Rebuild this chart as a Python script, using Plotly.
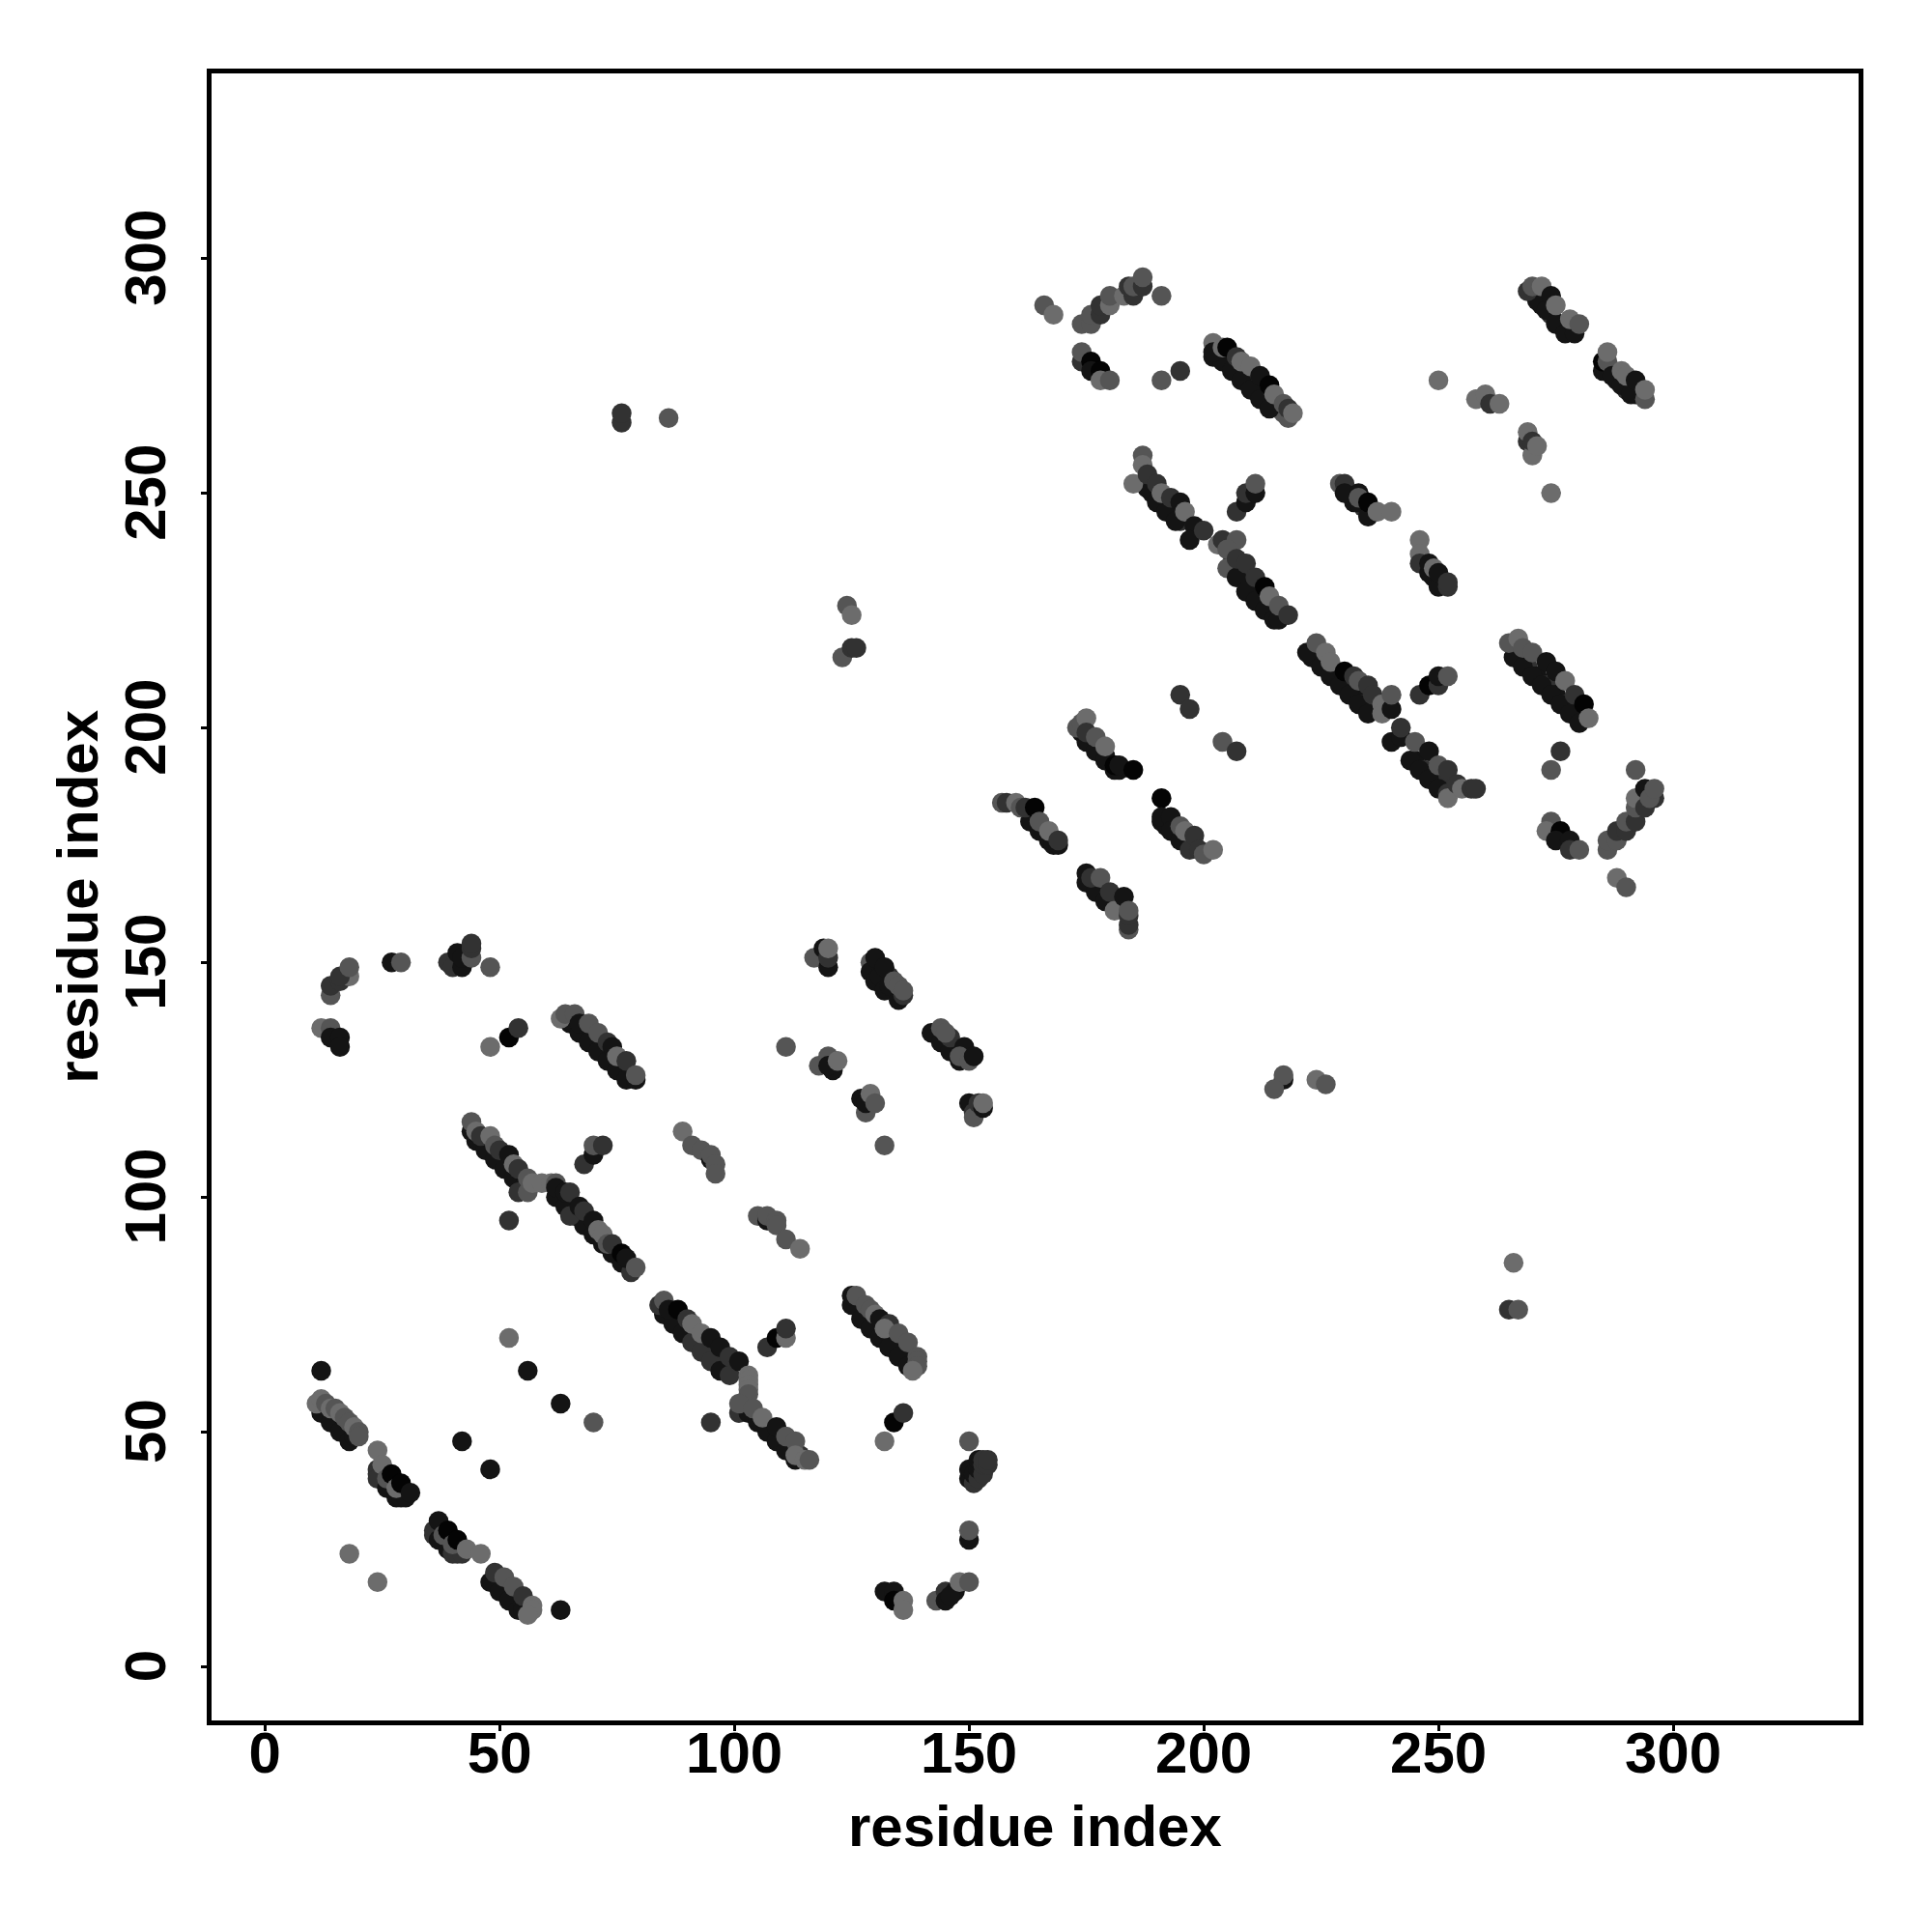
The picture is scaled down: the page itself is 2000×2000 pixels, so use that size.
import plotly.graph_objects as go

AXIS_LABEL = "residue index"
TICKS = [0, 50, 100, 150, 200, 250, 300]
D, K, M, L, B = 20, 50, 85, 108, 4

# each entry: (residue x, residue y, grey level), in paint order
under_a = [(13,54,D),(15,52,K),(17,50,D),(25,41,K),(27,39,D),(29,37,K),(37,29,K),(38,27,D),(40,25,K),(41,25,D),(49,18,D),(51,16,K),(53,14,D),(55,13,K)]
under_b = [(86,75,D),(88,73,K),(90,71,D),(92,69,K),(94,67,D),(96,65,K),(98,63,D),(104,54,D),(106,52,K),(108,50,D),(110,48,K),(112,46,D),(114,45,K),(126,77,D),(128,75,K),(130,73,D),(132,71,K),(134,69,D),(136,67,K),(138,65,D)]
under_c = [(46,112,D),(48,110,K),(50,108,D),(52,106,K),(54,104,D),(63,100,D),(65,98,K),(67,96,D),(69,94,K),(71,92,D),(73,90,K),(75,88,D),(77,86,K),(66,137,D),(68,135,K),(70,133,D),(72,131,K),(74,129,D),(76,127,K),(78,126,D)]
under_d = [(131,149,D),(133,147,K),(145,133,D),(147,131,K),(149,130,D),(164,180,D),(166,178,K),(168,176,D),(176,167,D),(178,165,K),(180,163,D),(182,162,K),(192,179,D),(194,178,K),(196,176,D),(198,175,K),(175,198,D),(177,196,K),(179,194,D),(181,192,K)]
under_e = [(224,215,D),(226,213,K),(228,211,D),(230,209,K),(232,207,D),(234,205,K),(236,204,D),(245,193,D),(247,191,K),(249,189,D),(251,188,K),(267,215,D),(269,213,K),(271,211,D),(273,209,K),(275,207,D),(277,205,K),(279,203,D)]
under_f = [(204,280,K),(206,278,M),(208,276,K),(210,274,M),(212,272,K),(214,270,M),(216,268,K),(217,267,M),(272,290,D),(274,288,K),(276,286,D),(278,285,K),(288,274,D),(290,272,K),(292,271,D),(189,250,D),(191,248,K),(193,246,D),(195,244,K),(206,235,D),(208,233,K),(210,230,D),(212,228,K),(214,226,D),(216,224,K),(232,248,D),(234,247,K),(249,232,D),(251,231,K)]
low_a = [(12,54,D),(14,52,D),(16,50,D),(18,48,D),(19,49,D),(11,56,L),(12,57,L),(13,56,M),(14,55,L),(15,55,M),(16,54,L),(17,53,M),(18,52,M),(19,51,L),(20,50,M),(20,49,M)]
low_b = [(24,42,K),(24,41,K),(24,40,K),(26,38,D),(28,36,D),(29,36,D),(30,36,D),(24,46,L),(25,43,L),(26,40,M),(27,41,B),(28,38,L),(29,39,B),(31,37,D)]
low_c = [(36,29,K),(36,28,K),(37,27,D),(39,25,D),(40,24,K),(41,24,K),(42,24,K),(37,31,D),(38,28,M),(39,29,B),(40,26,M),(41,27,B),(43,25,L),(46,24,L),(18,24,L),(24,18,L)]
low_d = [(48,18,D),(50,16,D),(52,14,D),(54,12,D),(55,12,D),(49,20,K),(51,19,M),(53,17,M),(55,15,K),(57,13,L),(57,12,L),(56,11,L),(63,12,D)]
singles_a = [(12,63,D),(42,48,D),(48,42,D),(52,70,L),(56,63,D),(63,56,D),(70,52,M),(95,52,K),(52,95,K)]
strand_e = [(85,75,D),(87,73,D),(89,71,D),(91,69,K),(93,67,K),(95,65,K),(97,63,D),(99,62,K),(84,77,K),(85,78,M),(86,76,D),(88,76,B),(90,74,K),(91,73,L),(93,71,L),(95,70,D),(97,68,D),(99,66,K),(101,65,D),(103,62,L),(103,61,L),(103,60,L),(103,59,L),(103,58,M)]
strand_f = [(101,54,K),(103,54,D),(105,52,D),(107,50,D),(109,48,D),(111,46,D),(113,44,D),(101,56,M),(104,55,M),(106,53,L),(109,51,D),(111,49,M),(113,48,M),(113,45,L),(115,44,L),(116,44,M)]
small_a = [(107,68,K),(109,70,B),(111,70,L),(111,72,K),(134,52,B),(136,54,K),(132,48,L)]
strand_g = [(125,77,D),(127,74,D),(129,72,D),(131,70,D),(133,68,D),(135,66,D),(137,64,D),(125,79,D),(126,79,M),(128,77,M),(129,76,M),(130,75,L),(131,74,D),(133,73,K),(132,72,L),(135,71,M),(137,69,M),(139,66,M),(139,65,M),(139,64,M),(138,63,L)]
arc_a = [(150,48,M),(150,40,D),(151,39,K),(150,42,D),(151,41,D),(152,40,K),(152,42,D),(153,41,K),(152,44,D),(153,43,K),(153,44,K),(154,43,K),(154,44,K),(150,27,D),(150,29,M)]
arc_b = [(132,16,D),(134,16,D),(134,14,B),(136,14,L),(136,12,L),(143,14,M),(145,16,K),(145,14,D),(147,16,D),(146,15,D),(148,18,L),(150,18,M)]
patch_a = [(89,114,L),(91,111,M),(93,110,M),(95,108,D),(95,109,M),(96,107,M),(96,105,M)]
patch_b = [(105,96,M),(107,95,D),(107,96,M),(109,95,M),(109,94,M),(111,91,M),(114,89,L)]
strand_h = [(45,112,D),(47,110,D),(49,108,D),(51,106,D),(53,104,D),(55,102,D),(54,101,K),(56,101,M),(44,114,D),(44,116,M),(45,114,L),(46,113,K),(48,113,L),(49,111,M),(50,110,K),(52,109,D),(53,107,L),(54,106,K),(56,104,M),(57,103,L),(59,103,L),(61,103,L),(62,103,M),(68,107,K),(70,109,D),(70,111,M),(72,111,K)]
strand_i = [(62,100,D),(64,98,D),(66,96,D),(68,94,D),(70,92,D),(72,90,D),(74,88,D),(76,86,D),(78,84,K),(65,96,K),(62,102,D),(64,101,D),(65,101,K),(67,98,D),(68,97,K),(70,95,D),(71,93,L),(72,92,L),(73,90,M),(74,90,K),(76,88,B),(77,87,D),(79,85,M)]
strand_j = [(65,137,D),(67,135,D),(69,133,D),(71,131,D),(73,129,D),(75,127,D),(77,125,D),(79,125,D),(63,138,L),(64,139,M),(66,139,M),(67,137,D),(69,137,M),(71,135,M),(73,133,K),(74,132,D),(75,130,L),(77,129,K),(79,126,M)]
arc_c = [(12,136,L),(14,136,M),(14,134,D),(16,134,D),(16,132,D),(14,143,M),(14,145,K),(16,146,K),(18,147,L),(16,147,K),(18,149,M),(27,150,D),(29,150,M),(39,150,K),(40,149,K),(42,149,D),(41,152,D),(42,151,D),(44,151,M),(44,153,K),(44,154,K),(48,149,M),(48,132,L),(52,134,B),(54,136,K)]
mid_a = [(117,151,M),(119,153,D),(120,149,D),(120,151,K),(120,153,L)]
mid_b = [(129,150,M),(129,148,D),(130,146,D),(130,151,D),(131,147,D),(132,144,D),(132,149,D),(133,145,D),(135,142,D),(136,143,K),(134,146,M),(135,145,M),(136,144,M)]
mid_c = [(142,135,D),(144,133,D),(146,131,D),(148,129,D),(144,136,M),(146,134,K),(145,135,M),(149,132,D),(148,130,M),(150,129,M),(151,130,D)]
mid_d = [(111,132,M),(118,128,M),(120,130,M),(121,127,D),(120,128,D),(122,129,L),(127,121,D),(128,118,M),(128,120,D),(129,122,L),(130,120,M),(132,111,M),(150,120,D),(151,118,K),(151,117,M),(152,120,K),(153,119,D),(153,120,L)]
up_a = [(163,180,D),(165,178,D),(167,176,D),(168,175,D),(169,175,D),(157,184,M),(158,184,K),(160,184,L),(161,183,M),(162,183,K),(164,183,B),(165,180,M),(167,178,L),(169,176,K)]
up_b = [(175,167,D),(177,165,D),(179,163,D),(175,169,D),(176,168,K),(178,168,M),(180,165,K),(181,161,L),(183,164,D),(184,157,M),(184,158,K),(184,160,K),(184,161,M)]
up_c = [(191,185,B),(191,180,D),(191,181,D),(193,181,D),(193,178,D),(195,176,D),(197,174,K),(195,179,M),(196,178,L),(198,177,K),(199,174,K),(200,173,M),(202,174,L),(204,197,M),(207,195,K),(195,207,K),(197,204,K)]
up_d = [(174,199,D),(175,197,D),(177,195,D),(179,193,D),(181,191,D),(182,191,D),(173,200,M),(174,201,M),(175,202,L),(175,199,K),(177,198,M),(179,196,L),(181,192,B),(182,192,D),(185,191,B)]
strand_k = [(223,215,D),(225,213,D),(227,211,D),(229,209,D),(231,207,D),(233,205,D),(235,203,D),(222,216,D),(224,218,M),(226,216,L),(227,214,L),(230,212,B),(232,211,K),(233,210,M),(235,209,K),(236,207,K),(238,205,L),(238,203,L),(240,204,D),(240,207,M)]
strand_l = [(244,193,D),(246,191,D),(248,189,D),(250,187,D),(252,186,K),(240,197,D),(242,198,D),(242,200,K),(245,197,M),(248,195,D),(250,192,M),(252,191,K),(252,185,L),(254,188,K),(255,187,L),(257,187,K),(258,187,K),(246,207,K),(248,209,B),(250,209,K),(250,211,D),(252,211,M)]
strand_m = [(266,215,D),(268,213,D),(270,211,D),(272,209,D),(274,207,D),(276,205,D),(278,203,D),(265,218,M),(267,219,L),(268,217,M),(270,216,M),(273,214,D),(275,212,D),(277,210,L),(279,207,K),(280,201,D),(281,205,B),(282,202,L),(276,195,K),(274,191,M)]
arc_d = [(274,180,M),(273,178,L),(276,178,B),(275,176,D),(278,176,D),(278,174,K),(280,174,M),(286,174,M),(286,176,M),(288,176,M),(288,178,K),(290,178,K),(290,180,M),(292,180,K),(292,183,M),(292,185,L),(294,183,K),(294,187,D),(296,185,K),(295,185,M),(296,187,M),(288,168,L),(290,166,M),(292,191,M)]
far_a = [(224,125,L),(226,124,M),(217,125,D),(217,126,M),(215,123,M),(266,86,L),(265,76,K),(267,76,M),(76,265,K),(76,267,K),(86,266,M),(124,226,M),(125,224,L),(123,215,M),(125,217,K),(126,217,K)]
top_a = [(166,290,M),(168,288,L),(174,286,M),(176,286,M),(176,288,M),(178,288,K),(178,290,K),(180,290,L),(180,292,M),(183,292,L),(185,292,K),(184,294,K),(185,294,M),(187,294,K),(187,296,M),(191,292,M),(174,278,K),(174,280,M),(176,278,B),(176,276,D),(178,276,B),(178,274,L),(180,274,M),(191,274,M),(195,276,K)]
strand_n = [(202,279,D),(204,278,D),(206,276,D),(208,274,D),(210,272,D),(212,270,D),(214,268,D),(218,266,M),(202,282,L),(202,280,D),(204,281,L),(205,281,B),(207,279,K),(208,278,L),(210,277,L),(212,275,D),(214,273,B),(215,271,L),(217,269,M),(218,268,K),(219,267,L)]
scatter_b = [(250,274,L),(258,270,L),(260,271,L),(261,269,K),(263,269,L),(269,261,K),(269,263,L),(270,258,L),(270,261,K),(271,260,L),(274,250,L)]
strand_o = [(271,291,D),(273,289,D),(275,286,D),(277,284,D),(279,284,D),(269,293,K),(270,294,M),(272,294,L),(274,292,D),(275,290,L),(278,287,L),(280,286,M)]
strand_p = [(285,276,D),(285,278,B),(286,278,M),(286,280,L),(287,275,D),(289,273,D),(291,271,D),(289,276,L),(290,275,L),(292,274,D),(294,270,M),(294,272,L)]
strand_q = [(188,251,D),(190,248,D),(192,246,D),(194,244,D),(185,252,L),(187,258,M),(187,256,L),(188,254,K),(190,252,K),(191,250,L),(193,249,K),(195,248,D),(196,246,L),(198,243,D),(197,240,D),(200,242,K),(207,246,K),(209,248,D),(209,250,K),(211,250,D),(211,252,M)]
strand_r = [(205,234,M),(207,232,D),(209,229,D),(211,227,D),(213,225,D),(215,223,D),(216,223,D),(203,239,L),(204,240,K),(207,240,M),(205,238,M),(207,236,K),(209,235,K),(211,232,K),(213,230,B),(214,228,L),(216,226,M),(218,224,K)]
strand_s = [(229,252,M),(230,252,K),(230,250,D),(233,250,D),(233,248,D),(233,249,M),(235,245,D),(235,248,B),(237,246,L),(240,246,L),(246,240,L),(246,237,L),(246,235,K),(248,233,D),(248,235,D),(249,234,L),(250,230,D),(250,233,D),(252,230,K),(252,231,K)]

groups = [under_a, under_b, under_c, under_d, under_e, under_f,
          low_a, low_b, low_c, low_d, singles_a, strand_e, strand_f, small_a, strand_g, arc_a, arc_b,
          patch_a, patch_b, strand_h, strand_i, strand_j, arc_c, mid_a, mid_b, mid_c, mid_d, up_a, up_b,
          up_c, up_d, strand_k, strand_l, strand_m, arc_d, far_a, top_a, strand_n, scatter_b, strand_o,
          strand_p, strand_q, strand_r, strand_s]
points = [p for g in groups for p in g]
fig = go.Figure(go.Scatter(
    x=[p[0] for p in points], y=[p[1] for p in points], mode="markers",
    marker=dict(size=20.5, color=[f"rgb({p[2]},{p[2]},{p[2]})" for p in points], line=dict(width=0)),
    showlegend=False, hoverinfo="skip"))

font = dict(family="Liberation Sans", size=60, color="black", weight="bold")
axis = dict(tickvals=TICKS, ticks="outside", ticklen=6, tickwidth=3,
            tickcolor="black", showline=True, linewidth=5, linecolor="black", mirror=True,
            showgrid=False, zeroline=False, tickfont=font, automargin=False)
fig.update_xaxes(ticktext=[str(t) for t in TICKS], range=[-11.36, 339.5], ticklabelstandoff=-29, **axis)
fig.update_yaxes(ticktext=[str(t) + "\u00a0" for t in TICKS], range=[-11.5, 339.4], tickangle=-90,
                 ticklabelstandoff=13, **axis)
fig.update_layout(width=2000, height=2000, autosize=False, paper_bgcolor="white", plot_bgcolor="white",
                  margin=dict(l=210.8, r=83.8, t=67.5, b=226.5),
                  annotations=[
                      dict(text=AXIS_LABEL, xref="paper", yref="paper", x=0.5, y=-0.064, showarrow=False,
                           xanchor="center", yanchor="middle", font=font),
                      dict(text=AXIS_LABEL, xref="paper", yref="paper", x=-0.0814, y=0.5, showarrow=False,
                           textangle=-90, xanchor="center", yanchor="middle", font=font)])
fig.write_html("out.html")
